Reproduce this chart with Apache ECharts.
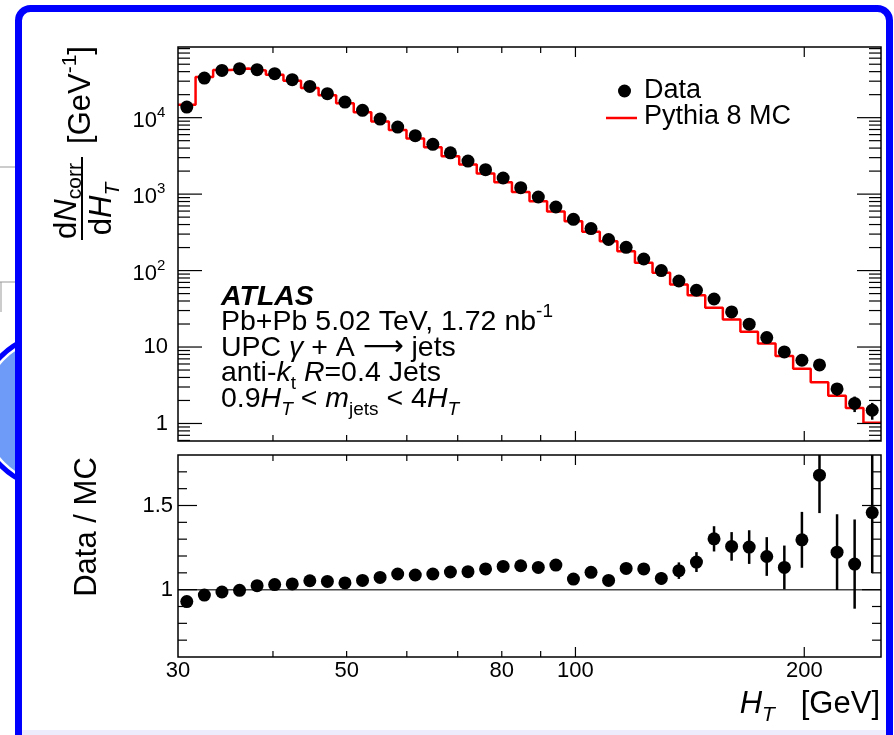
<!DOCTYPE html>
<html><head><meta charset="utf-8">
<script src="https://cdn.jsdelivr.net/npm/echarts@6/dist/echarts.min.js"></script>
<style>html,body{margin:0;padding:0;background:#fff}#c{width:894px;height:735px}</style>
</head><body><div id="c"></div>
<script>
// ---------------- data ----------------
const binEdges = [30.00,31.64,33.37,35.20,37.12,39.15,41.29,43.55,45.93,48.44,51.09,53.88,56.83,59.94,63.22,66.67,70.32,74.16,78.22,82.50,87.01,91.77,96.78,102.08,107.66,113.54,119.75,126.30,133.21,140.49,148.17,156.28,164.82,173.83,183.34,193.37,203.94,215.09,226.85,239.26,252.34];
const dataValues = [13760,32930,41520,43700,42410,37610,31390,25660,20590,15990,12460,9590,7540,5818,4477,3467,2708,2091,1624,1216,916.6,678.3,468.4,354.0,255.0,201.6,141.8,100.0,73.1,55.3,42.5,28.8,19.9,13.3,8.63,6.72,5.83,2.83,1.83,1.49];
const dataErrors = [89,170,211,219,207,219,182,171,137,123,106,89,76,64,53,44,37,32,26,21,17,13.6,10.6,8.7,7.3,5.7,4.3,3.4,3.2,2.8,2.45,1.95,1.59,1.28,0.99,0.86,0.78,0.52,0.42,0.37];
const mcValues = [14810,34020,42110,43880,41420,36510,30360,24370,19630,15380,11810,8938,6898,5352,4096,3138,2446,1862,1427,1065,809.7,591.9,440.6,320.9,241.7,179.0,126.3,93.7,65.7,47.5,32.6,22.9,15.9,11.1,7.62,5.19,3.47,2.31,1.59,1.02];
const ratioValues = [0.929,0.968,0.986,0.996,1.024,1.030,1.034,1.053,1.049,1.040,1.055,1.073,1.093,1.087,1.093,1.105,1.107,1.123,1.138,1.142,1.132,1.146,1.063,1.103,1.055,1.126,1.123,1.067,1.113,1.164,1.302,1.257,1.253,1.197,1.132,1.296,1.680,1.223,1.152,1.458];
const ratioErrors = [0.006,0.005,0.005,0.005,0.005,0.006,0.006,0.007,0.007,0.008,0.009,0.010,0.011,0.012,0.013,0.014,0.015,0.017,0.018,0.020,0.021,0.023,0.024,0.027,0.030,0.032,0.034,0.036,0.049,0.059,0.075,0.085,0.100,0.115,0.130,0.166,0.225,0.225,0.265,0.360];

// ---------------- axes / ticks ----------------
const X_MIN = 30, X_MAX = 252.34;
const TOP_MIN = 0.59, TOP_MAX = 84000;
const RATIO_MIN = 0.6, RATIO_MAX = 1.8;
const xMajorTicks = [100, 200];
const xMinorTicks = [40, 50, 60, 70, 80, 90];
const xTickLabels = ['30', '50', '80', '100', '200'];
const xTickLabelValues = [30, 50, 80, 100, 200];
const topMajorTicks = [1, 10, 100, 1000, 10000];
const topTickBase = ['1', '10', '10', '10', '10'];
const topTickExp = ['', '', '2', '3', '4'];
const topMinorMult = [2, 3, 4, 5, 6, 7, 8, 9];
const ratioMajorTicks = [1, 1.5];
const ratioTickLabels = ['1', '1.5'];
const ratioMinorTicks = [0.7, 0.8, 0.9, 1.1, 1.2, 1.3, 1.4, 1.6, 1.7];

const FONT = '"Liberation Sans", Arial, Helvetica, sans-serif';

const topMinorTicks = [];
[0.1, 1, 10, 100, 1000, 10000].forEach(d => topMinorMult.forEach(m => {
  const v = +(d * m).toPrecision(3);
  if (v > TOP_MIN && v < TOP_MAX) topMinorTicks.push(v);
}));

const centers = dataValues.map((_, i) => Math.sqrt(binEdges[i] * binEdges[i + 1]));
const mcStep = binEdges.map((e, i) => [e, mcValues[Math.min(i, mcValues.length - 1)]]);
const dataPts = dataValues.map((v, i) => [centers[i], v]);
const dataErr = dataValues.map((v, i) => [centers[i], v, dataErrors[i]]);
const ratioPts = ratioValues.map((v, i) => [centers[i], v]);
const ratioErr = ratioValues.map((v, i) => [centers[i], v, ratioErrors[i]]);

function errRender(params, api) {
  const x = api.value(0), y = api.value(1), e = api.value(2);
  const p1 = api.coord([x, y - e]), p2 = api.coord([x, y + e]);
  return { type: 'line', shape: { x1: p1[0], y1: p1[1], x2: p2[0], y2: p2[1] },
           style: { stroke: '#000', lineWidth: 2.5 } };
}

function mkTickTools(ch) {
  return {
    L: (x1, y1, x2, y2) => ch.push({ type: 'line', shape: { x1, y1, x2, y2 }, style: { stroke: '#000', lineWidth: 1.2 } }),
    T: (x, y, text, size, align) => ch.push({ type: 'text', x, y, style: { text, fill: '#000', fontSize: size, fontFamily: FONT, align, verticalAlign: 'middle' } })
  };
}

function topTicks(params, api) {
  const ch = []; const { L, T } = mkTickTools(ch);
  topMajorTicks.forEach((v, i) => {
    const pl = api.coord([X_MIN, v]), pr = api.coord([X_MAX, v]);
    L(pl[0], pl[1], pl[0] + 24, pl[1]); L(pr[0] - 24, pr[1], pr[0], pr[1]);
    if (topTickExp[i]) {
      T(pl[0] - 21, pl[1] + 3, topTickBase[i], 22, 'right');
      T(pl[0] - 21, pl[1] - 5, topTickExp[i], 15, 'left');
    } else {
      T(pl[0] - 10, pl[1], topTickBase[i], 22, 'right');
    }
  });
  topMinorTicks.forEach(v => {
    const pl = api.coord([X_MIN, v]), pr = api.coord([X_MAX, v]);
    L(pl[0], pl[1], pl[0] + 12, pl[1]); L(pr[0] - 12, pr[1], pr[0], pr[1]);
  });
  xMajorTicks.forEach(v => {
    const pb = api.coord([v, TOP_MIN]), pt = api.coord([v, TOP_MAX]);
    L(pb[0], pb[1], pb[0], pb[1] - 10); L(pt[0], pt[1], pt[0], pt[1] + 10);
  });
  xMinorTicks.forEach(v => {
    const pb = api.coord([v, TOP_MIN]), pt = api.coord([v, TOP_MAX]);
    L(pb[0], pb[1], pb[0], pb[1] - 6); L(pt[0], pt[1], pt[0], pt[1] + 6);
  });
  return { type: 'group', children: ch };
}

function ratioTicks(params, api) {
  const ch = []; const { L, T } = mkTickTools(ch);
  ratioMajorTicks.forEach((v, i) => {
    const pl = api.coord([X_MIN, v]), pr = api.coord([X_MAX, v]);
    L(pl[0], pl[1], pl[0] + 19, pl[1]); L(pr[0] - 19, pr[1], pr[0], pr[1]);
    T(pl[0] - 5, pl[1], ratioTickLabels[i], 22, 'right');
  });
  ratioMinorTicks.forEach(v => {
    const pl = api.coord([X_MIN, v]), pr = api.coord([X_MAX, v]);
    L(pl[0], pl[1], pl[0] + 9, pl[1]); L(pr[0] - 9, pr[1], pr[0], pr[1]);
  });
  xMajorTicks.forEach(v => {
    const pb = api.coord([v, RATIO_MIN]), pt = api.coord([v, RATIO_MAX]);
    L(pb[0], pb[1], pb[0], pb[1] - 10); L(pt[0], pt[1], pt[0], pt[1] + 10);
  });
  xMinorTicks.forEach(v => {
    const pb = api.coord([v, RATIO_MIN]), pt = api.coord([v, RATIO_MAX]);
    L(pb[0], pb[1], pb[0], pb[1] - 6); L(pt[0], pt[1], pt[0], pt[1] + 6);
  });
  xTickLabelValues.forEach((v, i) => {
    const pb = api.coord([v, RATIO_MIN]);
    T(pb[0], pb[1] + 14, xTickLabels[i], 22, 'center');
  });
  return { type: 'group', children: ch };
}

const hiddenAxis = { axisLine: { show: false }, axisTick: { show: false }, axisLabel: { show: false }, splitLine: { show: false } };

function mkRich(big, small, lh, subH) {
  return {
    n: { fontSize: big, fontFamily: FONT, lineHeight: lh, fill: '#000' },
    i: { fontSize: big, fontFamily: FONT, fontStyle: 'italic', lineHeight: lh, fill: '#000' },
    b: { fontSize: big, fontFamily: FONT, fontStyle: 'italic', fontWeight: 'bold', lineHeight: lh, fill: '#000' },
    ar: { fontSize: big, fontFamily: '"DejaVu Sans", sans-serif', lineHeight: lh, fill: '#000' },
    sub: { fontSize: small, fontFamily: FONT, verticalAlign: 'bottom', height: subH, fill: '#000' },
    isub: { fontSize: small, fontFamily: FONT, fontStyle: 'italic', verticalAlign: 'bottom', height: subH, fill: '#000' },
    sup: { fontSize: small, fontFamily: FONT, verticalAlign: 'top', height: subH, fill: '#000' }
  };
}
const richLegend = mkRich(27, 18, 34, 14);
const richAtlas = mkRich(28.5, 19, 36, 15);
const richTitle = {
  n: { fontSize: 31, fontFamily: FONT, lineHeight: 38, fill: '#000' },
  i: { fontSize: 31, fontFamily: FONT, fontStyle: 'italic', lineHeight: 38, fill: '#000' },
  sub: { fontSize: 21, fontFamily: FONT, verticalAlign: 'bottom', height: 22, fill: '#000' },
  isub: { fontSize: 21, fontFamily: FONT, fontStyle: 'italic', verticalAlign: 'bottom', height: 16, fill: '#000' },
  sup: { fontSize: 21, fontFamily: FONT, verticalAlign: 'top', height: 16, fill: '#000' }
};
function rt(x, y, text, rich, align, rot) {
  return { type: 'text', x, y, rotation: rot || 0, z: 100, silent: true,
           style: { text, rich, align: align || 'left', verticalAlign: 'middle', fontFamily: FONT, fontSize: 27, fill: '#000' } };
}

const atlasLines = [
  '{b|ATLAS}',
  '{n|Pb+Pb 5.02 TeV, 1.72 nb}{sup|-1}',
  '{n|UPC }{i|γ}{n| + A }{ar|⟶}{n| jets}',
  '{n|anti-}{i|k}{sub|t}{n| }{i|R}{n|=0.4 Jets}',
  '{n|0.9}{i|H}{isub|T}{n| < }{i|m}{sub|jets}{n| < 4}{i|H}{isub|T}'
];
const atlasY = [297, 322, 348, 373, 399];

const graphic = [
  // slide background artefacts
  { type: 'line', z: -20, shape: { x1: 0, y1: 167, x2: 18, y2: 167 }, style: { stroke: '#999', lineWidth: 1 } },
  { type: 'line', z: -20, shape: { x1: 0, y1: 282, x2: 18, y2: 282 }, style: { stroke: '#999', lineWidth: 1 } },
  { type: 'line', z: -20, shape: { x1: 1, y1: 282, x2: 1, y2: 312 }, style: { stroke: '#999', lineWidth: 1 } },
  { type: 'circle', z: -20, shape: { cx: 56, cy: 411, r: 75 }, style: { fill: '#6d9bf7', stroke: '#ffffff', lineWidth: 5 } },
  { type: 'circle', z: -19, shape: { cx: 56, cy: 411, r: 77.5 }, style: { fill: 'none', stroke: '#0000ff', lineWidth: 5 } },
  { type: 'rect', z: -15, shape: { x: 18.5, y: 8.5, width: 871, height: 800, r: 12 }, style: { fill: '#ffffff', stroke: '#0000ff', lineWidth: 7 } },
  { type: 'rect', z: -14, shape: { x: 22, y: 730, width: 864, height: 5 }, style: { fill: '#ececfc' } },
  // y-axis titles
  rt(67, 201, '{n|d}{i|N}{sub|corr}', richTitle, 'center', Math.PI / 2),
  { type: 'line', z: 100, shape: { x1: 82, y1: 157, x2: 82, y2: 240 }, style: { stroke: '#000', lineWidth: 2 } },
  rt(102, 209, '{n|d}{i|H}{isub|T}', richTitle, 'center', Math.PI / 2),
  rt(81, 95, '{n|[GeV}{sup|-1}{n|]}', richTitle, 'center', Math.PI / 2),
  rt(87, 527, '{n|Data / MC}', richTitle, 'center', Math.PI / 2),
  // x-axis title
  rt(880, 704, '{i|H}{isub|T}{n|   [GeV]}', richTitle, 'right'),
  // legend
  { type: 'circle', z: 100, shape: { cx: 624.5, cy: 91, r: 6.5 }, style: { fill: '#000' } },
  { type: 'line', z: 100, shape: { x1: 606, y1: 118, x2: 637, y2: 118 }, style: { stroke: '#ff0000', lineWidth: 2.5 } },
  rt(644, 91, '{n|Data}', richLegend, 'left'),
  rt(644, 117, '{n|Pythia 8 MC}', richLegend, 'left')
].concat(atlasLines.map((t, i) => rt(221, atlasY[i], t, richAtlas, 'left')));

const option = {
  animation: false,
  backgroundColor: '#ffffff',
  graphic: graphic,
  grid: [
    { left: 178, top: 47, width: 703, height: 394, show: true, backgroundColor: 'transparent', borderColor: '#000', borderWidth: 1.5, z: 50 },
    { left: 178, top: 455, width: 703, height: 202, show: true, backgroundColor: 'transparent', borderColor: '#000', borderWidth: 1.5, z: 50 }
  ],
  xAxis: [
    Object.assign({ type: 'log', logBase: 10, min: X_MIN, max: X_MAX, gridIndex: 0 }, hiddenAxis),
    Object.assign({ type: 'log', logBase: 10, min: X_MIN, max: X_MAX, gridIndex: 1 }, hiddenAxis)
  ],
  yAxis: [
    Object.assign({ type: 'log', logBase: 10, min: TOP_MIN, max: TOP_MAX, gridIndex: 0 }, hiddenAxis),
    Object.assign({ type: 'value', min: RATIO_MIN, max: RATIO_MAX, gridIndex: 1 }, hiddenAxis)
  ],
  series: [
    { name: 'Pythia 8 MC', type: 'line', xAxisIndex: 0, yAxisIndex: 0, step: 'end', data: mcStep,
      showSymbol: false, symbol: 'none', lineStyle: { color: '#ff0000', width: 2.5 }, z: 3, silent: true },
    { type: 'custom', xAxisIndex: 0, yAxisIndex: 0, data: dataErr, renderItem: errRender, clip: true, z: 4, silent: true },
    { name: 'Data', type: 'scatter', xAxisIndex: 0, yAxisIndex: 0, data: dataPts, symbol: 'circle', symbolSize: 13,
      itemStyle: { color: '#000', opacity: 1 }, z: 5, silent: true },
    { type: 'line', xAxisIndex: 1, yAxisIndex: 1, data: [[X_MIN, 1], [X_MAX, 1]], showSymbol: false, symbol: 'none',
      lineStyle: { color: '#444', width: 1.5 }, z: 3, silent: true },
    { type: 'custom', xAxisIndex: 1, yAxisIndex: 1, data: ratioErr, renderItem: errRender, clip: true, z: 4, silent: true },
    { type: 'scatter', xAxisIndex: 1, yAxisIndex: 1, data: ratioPts, symbol: 'circle', symbolSize: 13,
      itemStyle: { color: '#000', opacity: 1 }, z: 5, silent: true },
    { type: 'custom', xAxisIndex: 0, yAxisIndex: 0, data: [[X_MIN, TOP_MIN]], renderItem: topTicks, z: 60, silent: true },
    { type: 'custom', xAxisIndex: 1, yAxisIndex: 1, data: [[X_MIN, RATIO_MIN]], renderItem: ratioTicks, z: 60, silent: true }
  ]
};
const chart = echarts.init(document.getElementById('c'), null, { renderer: 'canvas' });
chart.setOption(option);
</script>
</body></html>
